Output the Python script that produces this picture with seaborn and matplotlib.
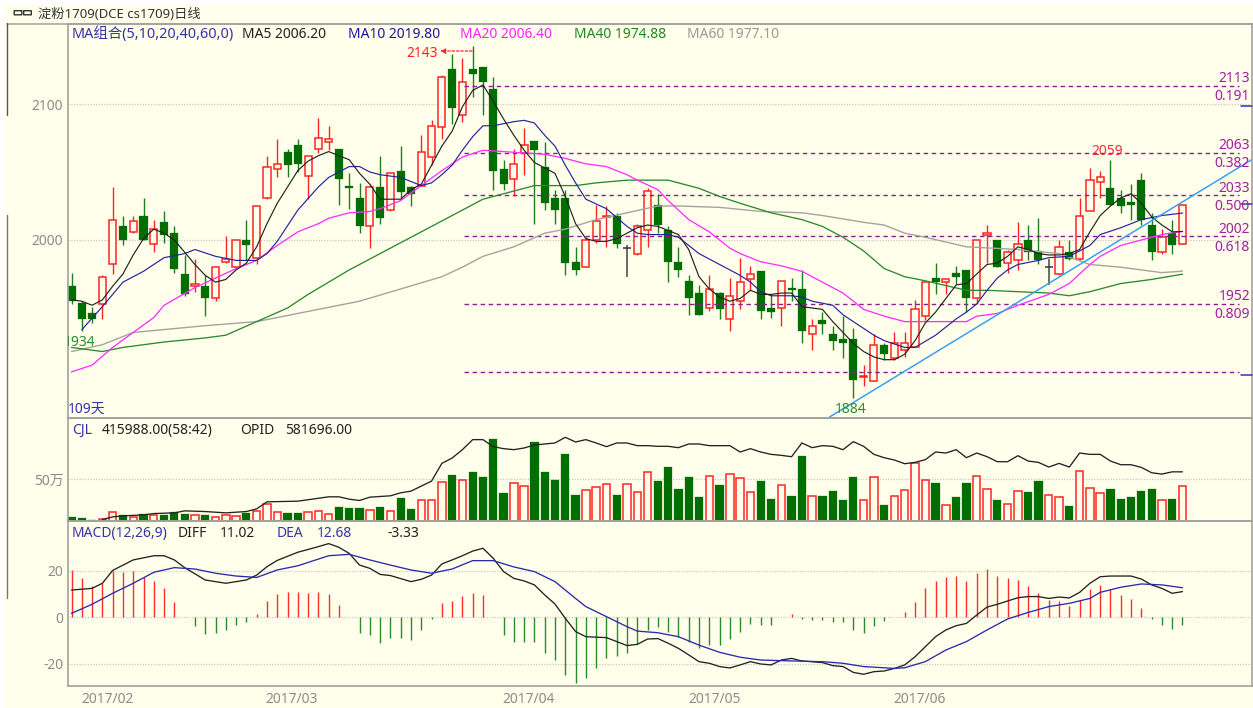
import matplotlib
matplotlib.use("Agg")
import matplotlib.pyplot as plt
import seaborn as sns
import numpy as np
import pandas as pd
from matplotlib.patches import Rectangle, FancyBboxPatch

# ---------- candles: one value per trading day ----------
high = [1976,1955,1951,1974,2039,2018,2018,2031,2015,2021,2010,1989,1986,1974,1980,2003,2000,2015,2025,2062,2074,2067,2074,2062,2090,2084,2067,2049,
        2042,2041,2062,2049,2069,2040,2077,2088,2121,2137,2134,2143,2127,2120,2059,2067,2082,2073,2072,2037,2037,1995,2002,2026,2025,2020,1996,
        2012,2038,2034,2010,1995,1974,1967,1974,1962,1972,1987,1981,1977,1960,1970,1972,1978,1942,1947,1937,1944,1935,1908,1931,1924,1932,1932,
        1956,1969,1983,1971,1981,1978,2000,2011,2000,1993,2013,2011,2016,1986,2000,2000,2031,2053,2051,2059,2037,2041,2049,2020,2008,2015,2026]
body_top = [1966,1954,1946,1973,2015,2010,2014,2018,2008,2013,2005,1975,1968,1966,1980,1986,2000,2000,2025,2054,2056,2065,2070,2062,2075,2074,2067,2040,
        2031,2039,2039,2049,2051,2039,2065,2084,2120,2126,2116,2126,2127,2111,2052,2056,2070,2073,2054,2031,2031,1984,2000,2014,2018,2018,1994,
        2010,2036,2026,2007,1984,1970,1961,1964,1961,1959,1969,1975,1977,1950,1970,1965,1964,1937,1941,1931,1927,1927,1900,1923,1923,1924,1924,
        1949,1969,1972,1971,1976,1978,2000,2005,2000,1991,1997,2000,1992,1980,1995,1991,2018,2044,2046,2038,2031,2028,2044,2011,2002,2005,2026]
body_bot = [1955,1942,1942,1953,1982,2000,2006,2000,1997,2004,1979,1960,1966,1957,1957,1984,1980,1996,1987,2031,2052,2055,2056,2047,2067,2072,2045,2038,
        2010,2010,2016,2022,2035,2034,2040,2061,2083,2097,2092,2122,2116,2051,2041,2045,2064,2066,2027,2022,1983,1978,1980,2000,2017,1997,1994,
        1990,2007,2011,1984,1978,1957,1945,1950,1949,1942,1955,1971,1948,1947,1950,1963,1933,1931,1938,1926,1924,1897,1899,1896,1916,1913,1919,
        1921,1944,1969,1969,1973,1957,1957,2004,1980,1983,1985,1991,1985,1980,1975,1986,1986,2021,2043,2026,2025,2026,2015,1991,1991,1996,1997]
low = [1953,1933,1939,1942,1975,1996,2005,2000,1991,1998,1976,1959,1962,1944,1955,1983,1979,1985,1982,2030,2046,2046,2050,2030,2064,2066,2026,2023,
        2005,1994,2012,2021,2031,2025,2040,2055,2074,2085,2087,2105,2092,2037,2037,2032,2048,2012,2022,2012,1974,1974,1980,1998,1995,1994,1973,
        1989,1995,2005,1969,1973,1945,1945,1948,1942,1933,1949,1963,1942,1943,1937,1955,1924,1919,1931,1919,1913,1884,1893,1896,1912,1912,1914,
        1921,1941,1960,1960,1968,1947,1953,1983,1980,1976,1978,1985,1982,1967,1974,1985,1985,2021,2031,2026,2020,2015,2011,1985,1990,1990,1997]
# +1 = close at top of body (red), -1 = close at bottom (green), 0 = doji
direction = [-1,-1,-1,1,1,-1,1,-1,1,-1,-1,-1,1,-1,1,1,1,-1,1,1,1,-1,-1,1,1,1,-1,-1,
             -1,1,-1,1,-1,-1,1,1,1,-1,1,-1,-1,-1,-1,1,1,-1,-1,-1,-1,-1,1,1,1,-1,0,
             1,1,-1,-1,-1,-1,-1,1,-1,1,1,1,-1,-1,1,-1,-1,1,-1,-1,-1,-1,1,1,-1,1,1,
             1,1,-1,1,-1,-1,1,1,-1,1,1,-1,-1,0,1,-1,1,1,1,-1,-1,-1,-1,-1,1,-1,1]

# ---------- moving averages ----------
ma5 = [1956,1955,1952,1956,1966,1975,1989,2001,2008,2005,2000,1991,1982,1974,1969,1971,1978,1983,1995,2012,2027,2039,2051,2058,2062,2065,2062,2059,
       2049,2041,2030,2030,2030,2037,2041,2055,2069,2080,2098,2110,2114,2102,2089,2077,2066,2057,2053,2049,2032,2012,2001,1999,1999,2001,2005,
       2009,2011,2010,2007,2004,1993,1973,1964,1958,1955,1957,1963,1960,1960,1961,1961,1951,1950,1949,1940,1932,1924,1918,1914,1912,1912,1916,
       1926,1939,1947,1957,1967,1968,1975,1982,1983,1988,1995,1993,1990,1989,1989,1990,1993,2006,2018,2025,2031,2034,2027,2017,2011,2006,2006.2]
ma10_day = [1,3,5,7,9,11,12,14,16,18,19,20,22,24,25,27,28,29,30,32,34,35,36,37,38,39,40,41,43,44,45,46,47,48,49,50,52,54,55,56,58,59,60,61,62,63,65,66,67,68,70,71,72,74,75,76,77,78,79,81,82,84,85,86,87,88,89,90,91,92,94,95,97,99,100,102,104,106,108]
ma10 = [1934,1951,1969,1977,1987,1990,1993,1988,1985,1985,1990,1999,2022,2039,2046,2054,2054,2050,2048,2046,2040,2042,2048,2055,2066,2076,2084,2084,2087,2088,2086,2077,2069,2055,2042,2030,2023,2010,2005,2004,2004,2002,1996,1990,1986,1982,1974,1969,1962,1959,1959,1958,1955,1952,1945,1940,1935,1930,1926,1921,1921,1930,1936,1942,1947,1953,1963,1972,1978,1982,1985,1987,1988,1996,2004,2009,2015,2018,2019.8]
ma20_day = [0,2,4,6,8,9,12,14,16,18,20,22,24,25,27,29,30,32,34,36,38,40,42,44,46,48,50,52,54,55,57,58,60,62,64,65,67,69,71,73,75,77,79,81,84,87,88,90,92,95,97,99,100,102,104,106,108]
ma20 = [1903,1908,1921,1932,1943,1952,1965,1972,1979,1985,1996,2006,2012,2016,2020,2021,2023,2029,2040,2051,2061,2066,2065,2064,2063,2060,2056,2054,2048,2044,2037,2029,2015,2006,1994,1990,1984,1981,1977,1969,1961,1949,1944,1940,1940,1940,1944,1946,1952,1960,1968,1982,1988,1996,2000,2004,2006.4]
ma40_day = [0,3,5,9,13,15,18,21,23,25,27,30,34,38,40,42,45,47,49,51,54,58,61,63,65,68,71,73,75,77,79,81,83,87,89,92,95,97,99,102,105,108]
ma40 = [1921,1918,1921,1925,1928,1930,1940,1950,1960,1969,1978,1990,2006,2022,2030,2034,2040,2040,2040,2042,2044,2044,2038,2032,2027,2020,2015,2010,2002,1992,1979,1973,1970,1963,1963,1962,1961,1959,1962,1968,1971,1974.88]
ma60_day = [0,3,6,13,18,28,32,36,38,40,43,46,48,51,54,57,59,63,67,71,73,77,79,81,83,87,92,96,99,102,106,108]
ma60 = [1918,1923,1932,1937,1940,1955,1964,1973,1980,1988,1995,2005,2008,2015,2020,2025,2025,2024,2021,2020,2018,2013,2011,2005,2002,1995,1993,1990,1982,1980,1976,1977.1]

# ---------- volume (10k lots) and open interest ----------
volume = [4.4,3.2,1.6,2.8,11.1,6.7,4.8,7.9,6.7,7.1,10.7,8.7,6.7,7.1,4.4,6.7,5.6,9.9,12.3,20.6,10.7,9.9,9.9,10.7,12.3,7.9,16.3,15.1,15.1,13.5,16.3,12.3,27.4,13.9,24.6,24.6,46.1,54.8,49.2,58.8,52,97.3,33,44.9,42.1,94.1,58.8,49.2,79.4,31.4,36.5,40.9,43.7,31.4,43.7,
          34.1,58.8,48,64.3,38.5,52,29,53.2,42.5,56,50.8,34.1,48,26.2,42.5,30.2,77.8,30.2,30.2,35.7,24.6,52,24.6,52,19.5,30.2,36.5,69.5,49.2,45.3,19.5,29,45.3,53.2,38.5,24.6,20.6,35.3,34.1,48,31.4,29,17.9,59.9,39.7,33,38.5,26.2,29,35.7,38.5,24.6,26.2,41.6]
opid_day = [3,4,5,7,8,10,11,13,15,17,18,19,22,25,26,27,28,29,31,32,33,35,36,37,38,39,40,41,42,43,44,45,46,47,48,49,50,51,52,53,54,
            55,56,57,58,59,60,61,62,63,64,65,66,67,68,69,70,71,72,73,74,75,76,77,78,79,80,81,82,83,84,85,86,87,88,89,90,91,92,93,94,95,96,97,98,99,100,101,102,103,104,105,106,107,108]
opid = [43.9,44.7,45,45.3,45.7,45.9,46.5,46.3,45.9,46.3,47.1,49.2,49.4,50.7,50.7,50,49.6,50.6,51,51.9,52.4,55.4,60.7,62.3,64.8,67.8,67.8,65.7,65.1,64.8,65.3,66.2,66.5,66.8,68.5,67.1,67.8,66.8,65.7,66.8,66.8,
        66,66,65.8,65.8,65.4,66.5,66.5,66,66,66,64.1,65.1,64.1,63.4,63.1,62.7,66.8,65.4,66,65.8,64.8,67.2,65.8,63.4,62.4,61.7,60.6,61,61.8,64.1,63.8,64.8,62.4,63.8,62.7,61.2,61.2,63,61.4,61,59.6,60.7,59.6,63.8,63.4,63.4,61.4,60.3,60.3,59.5,57.9,57.5,58.17,58.17]

# ---------- MACD ----------
macd_hist = [20.1,16.9,13.4,14.6,19.9,19.3,20,17.1,15.6,12.4,6.6,0,-3.6,-7,-6.6,-5.6,-3.3,-2.1,1.3,7,10,11,11,10.4,11,10,5.1,0.3,-6.6,-7.6,-11,-9,-9,-9.6,-5.6,-0.7,6,7,9,10.4,9.4,0,-7.6,-10.4,-10.4,-10.4,-15.4,-18.3,-24.7,-28,-26.1,-21.9,-17.3,-16.4,-15.4,
             -11.6,-5.4,-4,-6.4,-8.3,-10.4,-13.3,-11.9,-11.9,-9.4,-6.1,-2.7,-3.1,-3.1,0,1.3,-0.7,-1.1,-1.1,-2.1,-2.1,-5.6,-6.6,-3.6,-1.7,0.3,2.3,6.6,12.4,15.4,17.4,17.9,15.4,18.9,20.9,17.9,16.9,15.9,13.4,10.6,7.6,7,5,7.3,12,13.9,12,9.6,7.7,4.1,-0.7,-3.1,-5,-3.3]
diff_day = [0,2,3,4,6,8,9,10,11,13,15,17,18,19,20,22,24,25,26,27,28,29,30,31,33,34,35,36,37,38,39,40,41,42,43,44,45,46,47,48,49,50,52,53,54,
            55,56,57,58,59,60,61,62,63,64,65,66,67,68,69,70,71,73,74,75,76,77,78,79,80,81,82,83,84,85,86,87,88,89,90,91,92,93,94,95,96,97,98,99,100,101,102,103,104,105,106,107,108]
diff = [11.7,12.4,14.6,20.1,24.6,26.4,26.4,24.6,21.3,16,14.6,16,18.1,21.7,24.4,27.9,30.3,31.6,30,27.4,22.4,21,18.4,17.9,15.3,16.3,18.1,22.9,24.6,26.4,28.4,29.6,25.3,19.6,16.7,15.6,13.9,9.6,5.7,-0.4,-6.1,-8.3,-8.7,-10.4,-12.1,
        -11.6,-9.3,-9.1,-11.1,-13.3,-16.1,-19,-19.7,-21.1,-21.7,-20.4,-19,-20,-20.4,-18.3,-17.6,-18.7,-19.4,-20.7,-21.1,-23.6,-24.4,-23.3,-23,-21.9,-20.4,-16.9,-12.6,-8.3,-5.4,-3.6,-2.6,1,4.4,5.6,7,8.4,8.9,8.9,8.1,8.7,8.3,10.7,14.6,17.4,17.7,17.7,17.7,16.4,13.9,12.4,10.3,11.02]
dea_day = [0,2,4,6,8,10,12,14,16,18,20,22,25,27,29,31,33,35,37,39,41,43,45,47,49,50,52,54,55,57,59,61,63,65,67,70,73,75,77,80,81,83,85,87,89,91,93,95,97,99,100,102,104,106,108]
dea = [1.7,5.6,10.3,14.6,19.3,21.3,20.7,18.9,17.7,17.1,20.3,22.1,26.4,27,24.6,22.4,20.3,18.9,20.7,24.3,24.3,21.6,19.6,15.3,8.1,4.6,0.3,-4,-5.9,-6.6,-8.3,-11.9,-15,-17.1,-18.3,-18.7,-19,-19.7,-21.1,-21.9,-21.6,-19,-14,-10.4,-5.4,-0.7,2.1,4.6,6,8.1,10.7,12.9,14.3,13.9,12.68]

# ---------- overlays and labels ----------
fib_levels = [2113.6, 2064, 2033, 2003, 1953, 1903]
fib_start_day = 38.2
fib_end_day = 113.5
trend_day = [73.7, 114.76]
trend_price = [1869.9, 2059.2]
month_days = [3.5, 21.4, 44.4, 62.5, 82.4]
month_labels = ["2017/02", "2017/03", "2017/04", "2017/05", "2017/06"]
fib_text = [("2113", 77), ("0.191", 95), ("2063", 144), ("0.382", 162), ("2033", 187),
            ("0.500", 205), ("2002", 228), ("0.618", 246), ("1952", 295), ("0.809", 313)]

W, H = 1253, 708
BG = "#FFFFEC"
RED = "#FF2424"
GREEN = "#006E00"
WICK_GREEN = "#1E7E1E"
FRAME = "#A2A29C"
GRAY_TXT = "#8C8C8C"
BLUE_TXT = "#3434A8"
DARK = "#222222"
PURPLE = "#A020A0"
FIB = "#8E1E8E"

sns.set_theme(style="white")
plt.rcParams["font.family"] = ["Noto Sans", "Noto Sans CJK SC", "DejaVu Sans"]
plt.rcParams["axes.unicode_minus"] = False

days = np.arange(len(high))
top = np.array(body_top, float)
bot = np.array(body_bot, float)
dirs = np.array(direction)
vol = np.array(volume)
hist = np.array(macd_hist)
up = dirs > 0
down = dirs < 0
doji = dirs == 0

fig = plt.figure(figsize=(W / 100, H / 100), dpi=100, facecolor="white")

def pane(l, t, r, b, **kw):
    return fig.add_axes([l / W, 1 - b / H, (r - l) / W, (b - t) / H], **kw)

# window chrome in pixel coordinates
bg = pane(0, 0, W, H)
bg.set_xlim(0, W); bg.set_ylim(H, 0); bg.axis("off")
bg.add_patch(Rectangle((5, 5), W - 5, H - 5, facecolor=BG, edgecolor="none"))
bg.plot([7, W], [23.5, 23.5], color=FRAME, lw=1.1)
bg.plot([6.5, 6.5], [23, 115], color="#555555", lw=1)
bg.plot([6.5, 6.5], [215, 598], color="#777777", lw=1)
for x0 in (14.5, 24):
    bg.add_patch(FancyBboxPatch((x0, 11), 7, 3.5, boxstyle="round,pad=0.3", fc=BG, ec="#333333", lw=1))

XL = (67.5 - 71.5) / 10.287
XR = (1252 - 71.5) / 10.287

def style(ax):
    ax.set_facecolor("none")
    ax.set_xlim(XL, XR)
    for s in ax.spines.values():
        s.set_visible(True); s.set_color(FRAME); s.set_linewidth(1.2)
    ax.tick_params(axis="both", length=0, labelcolor=GRAY_TXT, labelsize=10, pad=3)
    ax.set_xlabel(""); ax.set_ylabel("")

# ---------- main pane ----------
ax = pane(67.5, 23.5, 1252, 418)
ax.vlines(days[up], np.array(low)[up], np.array(high)[up], color=RED, lw=1.0, zorder=1)
ax.vlines(days[down], np.array(low)[down], np.array(high)[down], color=WICK_GREEN, lw=1.0, zorder=1)
ax.vlines(days[doji], np.array(low)[doji], np.array(high)[doji], color="#444444", lw=1.1, zorder=1)
ax.hlines(top[doji], days[doji] - 0.38, days[doji] + 0.38, color="#333333", lw=1.1, zorder=1)
ax.bar(days[up], (top - bot)[up], bottom=bot[up], width=0.7, facecolor=BG, edgecolor=RED, linewidth=1.1, zorder=1.2)
ax.bar(days[down], (top - bot)[down], bottom=bot[down], width=0.78, facecolor=GREEN, edgecolor=GREEN, linewidth=0.2, zorder=1.2)

ax.hlines([2100, 2000], XL, XR, color="#C9C9C0", lw=0.9, linestyle=(0, (1, 1.2)), zorder=0.5)
ax.hlines(fib_levels, fib_start_day, fib_end_day, color=FIB, lw=1.0, linestyle=(0, (3.2, 2.6)), zorder=1.5)

sns.lineplot(x=ma60_day, y=ma60, ax=ax, color="#A4A49E", lw=1.0, errorbar=None, sort=False)
sns.lineplot(x=ma40_day, y=ma40, ax=ax, color="#2C8A2C", lw=0.95, errorbar=None, sort=False)
sns.lineplot(x=ma20_day, y=ma20, ax=ax, color="#FF30FF", lw=0.95, errorbar=None, sort=False)
sns.lineplot(x=ma10_day, y=ma10, ax=ax, color="#24249C", lw=0.85, errorbar=None, sort=False)
sns.lineplot(x=days, y=ma5, ax=ax, color="#222222", lw=0.85, errorbar=None, sort=False)
sns.lineplot(x=trend_day, y=trend_price, ax=ax, color="#3CA0F0", lw=1.1, errorbar=None, sort=False)
style(ax)
ax.set_ylim(2000 - 178 / 1.36, 2000 + 216.5 / 1.36)
ax.set_xticks([]); ax.set_yticks([2000, 2100]); ax.set_yticklabels(["2000", "2100"])

# ---------- volume pane ----------
axv = pane(67.5, 418, 1252, 521)
sns.barplot(x=days[dirs >= 0], y=vol[dirs >= 0], ax=axv, native_scale=True, width=0.72, facecolor=BG,
            edgecolor=RED, linewidth=1.1, zorder=1.2)
sns.barplot(x=days[down], y=vol[down], ax=axv, native_scale=True, width=0.8, color=GREEN, saturation=1,
            edgecolor=GREEN, linewidth=0.2, zorder=1.2)
axv.hlines([50], XL, XR, color="#C9C9C0", lw=0.9, linestyle=(0, (1, 1.2)), zorder=0.5)
style(axv)
axv.set_ylim(0, 103 * 50 / 42)
axv.set_xticks([]); axv.set_yticks([50]); axv.set_yticklabels(["50万"])
axo = axv.twinx()
sns.lineplot(x=opid_day, y=opid, ax=axo, color="#222222", lw=0.95, errorbar=None, sort=False)
axo.set_xlim(XL, XR)
axo.set_ylim(43.47, 74.27)
axo.set_yticks([]); axo.set_ylabel("")
axo.set_facecolor("none")
for s in axo.spines.values():
    s.set_visible(False)

# ---------- MACD pane ----------
axm = pane(67.5, 521, 1252, 686)
axm.vlines(days[hist > 0], 0, hist[hist > 0], color="#FF2C2C", lw=1.0, zorder=1)
axm.vlines(days[hist < 0], 0, hist[hist < 0], color="#2A8A2A", lw=1.0, zorder=1)
axm.hlines([-20, 0, 20], XL, XR, color="#C9C9C0", lw=0.9, linestyle=(0, (1, 1.2)), zorder=0.5)
sns.lineplot(x=diff_day, y=diff, ax=axm, color="#222222", lw=0.95, errorbar=None, sort=False)
sns.lineplot(x=dea_day, y=dea, ax=axm, color="#2A2AB0", lw=0.95, errorbar=None, sort=False)
style(axm)
axm.set_ylim(-68.67 / 2.333, 96.33 / 2.333)
axm.set_yticks([-20, 0, 20]); axm.set_yticklabels(["-20", "0", "20"])
axm.set_xticks(month_days); axm.set_xticklabels(month_labels)
axm.tick_params(axis="x", pad=4)

# ---------- texts in pixel coordinates ----------
over = pane(0, 0, W, H)
over.set_xlim(0, W); over.set_ylim(H, 0); over.axis("off"); over.patch.set_alpha(0)

def label(x, y, s, color=DARK, ha="left", size=10, **kw):
    return over.text(x, y + 1.5, s, color=color, ha=ha, va="center", fontsize=size, zorder=10, clip_on=False, **kw)

label(38, 13, "淀粉1709(DCE cs1709)日线", color="#333333", size=9.5)
label(72, 33, "MA组合(5,10,20,40,60,0)", color=BLUE_TXT, size=10.4)
label(242, 33, "MA5 2006.20", color="#222222")
label(348, 33, "MA10 2019.80", color="#1A1A96")
label(460, 33, "MA20 2006.40", color="#FF22FF")
label(574, 33, "MA40 1974.88", color="#1E8A1E")
label(687, 33, "MA60 1977.10", color="#9A9A94")

label(438, 52, "2143", color=RED, ha="right")
over.annotate("", xy=(440, 51), xytext=(472, 51),
              arrowprops=dict(arrowstyle="-|>,head_length=0.25,head_width=0.12", color=RED, lw=0.9, linestyle=(0, (2, 1.5)), shrinkA=0, shrinkB=0))
label(1107, 150, "2059", color="#F03040", ha="center")
label(851, 408, "1884", color="#2E8B2E", ha="center")
t1934 = label(95, 341, "1934", color="#2E8B2E", ha="right")
t1934.set_clip_on(True)
t1934.set_clip_box(ax.bbox)
label(68, 408, "109天", color=BLUE_TXT)

for txt, y in fib_text:
    label(1250, y, txt, color=PURPLE, ha="right")
over.plot([1241, 1252], [105.5, 105.5], color="#3434B0", lw=1.1)
over.plot([1241, 1252], [204, 204], color="#3434B0", lw=1.1)
over.plot([1241, 1252], [375, 375], color="#3434B0", lw=1.1)

label(72, 429, "CJL", color=BLUE_TXT)
label(102, 429, "415988.00(58:42)")
label(240, 429, "OPID")
label(285, 429, "581696.00")
label(72, 532, "MACD(12,26,9)", color=BLUE_TXT)
label(178, 532, "DIFF")
label(220, 532, "11.02")
label(277, 532, "DEA", color=BLUE_TXT)
label(317, 532, "12.68", color=BLUE_TXT)
label(388, 532, "-3.33")

fig.savefig("out.png", dpi=100, facecolor="white")
